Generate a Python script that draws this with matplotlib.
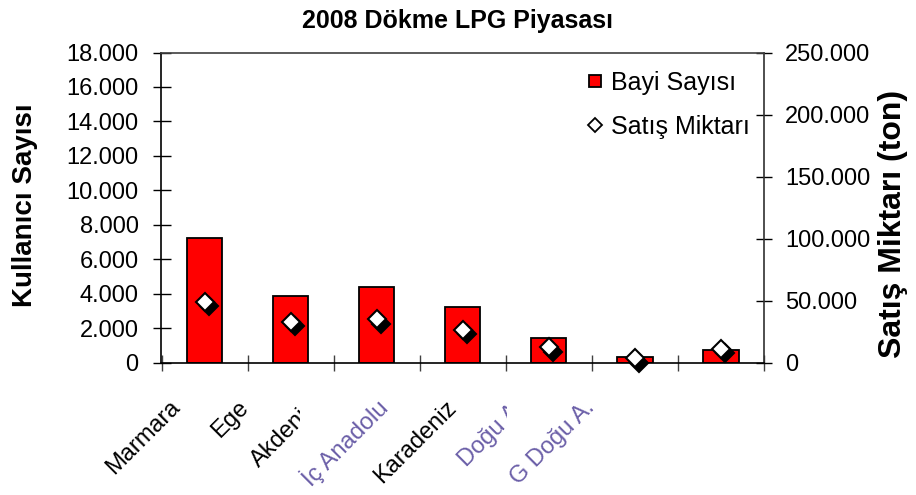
import matplotlib
matplotlib.use("Agg")
import matplotlib.pyplot as plt
from matplotlib.ticker import FuncFormatter, MultipleLocator
from matplotlib.transforms import ScaledTranslation, Bbox, TransformedBbox
from matplotlib.lines import Line2D
import numpy as np

plt.rcParams['font.family'] = ['Liberation Sans', 'DejaVu Sans']

title = "2008 Dökme LPG Piyasası"
categories = ["Marmara", "Ege", "Akdeniz", "İç Anadolu", "Karadeniz", "Doğu A.", "G Doğu A."]
bayi_sayisi = [7250, 3850, 4400, 3250, 1400, 330, 700]
satis_miktari = [49000, 33000, 35000, 26500, 12500, 3500, 11000]
left_label = "Kullanıcı Sayısı"
right_label = "Satış Miktarı (ton)"
legend_labels = ["Bayi Sayısı", "Satış Miktarı"]

W, H = 916, 495
fig = plt.figure(figsize=(W / 100, H / 100), dpi=100)
ax = fig.add_axes([161.5 / W, 1 - 362.5 / H, (764 - 161.5) / W, (362.5 - 52.5) / H])
ax2 = ax.twinx()

x = np.arange(len(categories))
ax.bar(x, bayi_sayisi, width=0.41, color='#ff0000', edgecolor='black', linewidth=1.3, zorder=2)
ax.set_xlim(-0.5, len(categories) - 0.5)
ax.set_ylim(0, 18000)
ax.yaxis.set_major_locator(MultipleLocator(2000))
ax2.set_ylim(0, 250000)
ax2.yaxis.set_major_locator(MultipleLocator(50000))

fmt = FuncFormatter(lambda v, p: f"{int(round(v)):,}".replace(",", "."))
ax.yaxis.set_major_formatter(fmt)
ax2.yaxis.set_major_formatter(fmt)

# diamonds with shadow
shadow = ScaledTranslation(4.5 / 100, -4.5 / 100, fig.dpi_scale_trans)
ax2.plot(x, satis_miktari, linestyle='none', marker='D', markersize=9, markerfacecolor='black',
         markeredgecolor='black', markeredgewidth=1.5, transform=ax2.transData + shadow, zorder=3,
         clip_on=False)
ax2.plot(x, satis_miktari, linestyle='none', marker='D', markersize=9, markerfacecolor='white',
         markeredgecolor='black', markeredgewidth=1.5, zorder=4, clip_on=False)

# spines
for s in ['top', 'right', 'left', 'bottom']:
    ax.spines[s].set_visible(False)
ax2.spines['left'].set_color('black')
ax2.spines['bottom'].set_color('black')
ax2.spines['top'].set_color('#404040')
ax2.spines['right'].set_color('#303030')
for s in ax2.spines.values():
    s.set_linewidth(1.2)

# ticks
ax.tick_params(axis='y', direction='inout', length=13, width=1, labelsize=17, pad=10, colors='black')
ax2.tick_params(axis='y', direction='inout', length=12, width=1, labelsize=17, pad=9, colors='black')
ax.set_xticks(np.arange(len(categories) + 1) - 0.5)
ax.set_xticklabels([])
ax.tick_params(axis='x', which='major', direction='inout', length=11.5, width=1, color='#404040')
ax.set_xticks(x, categories, minor=True)
ax.tick_params(axis='x', which='minor', length=0, pad=30, labelsize=17)

faded = {3, 5, 6}
clip_at = {2: 300, 5: 507}
for i, lab in enumerate(ax.get_xticklabels(minor=True)):
    lab.set_rotation(45)
    lab.set_rotation_mode('anchor')
    lab.set_ha('right')
    lab.set_va('center')
    off = ScaledTranslation((-28 - 17.0 * i) / 100, 0, fig.dpi_scale_trans)
    lab.set_transform(lab.get_transform() + off)
    if i in faded:
        lab.set_color('#6b5fa8')
    if i in clip_at:
        lab.set_clip_box(TransformedBbox(Bbox.from_extents(0, 0, clip_at[i] / W, 1), fig.transFigure))
        lab.set_clip_on(True)

ax.set_ylabel(left_label, fontsize=20, fontweight='bold')
ax2.set_ylabel(right_label, fontsize=23, fontweight='bold')
ax.yaxis.set_label_coords(25 / W, 1 - 205 / H, transform=fig.transFigure)
ax2.yaxis.set_label_coords(893 / W, 1 - 224 / H, transform=fig.transFigure)
ax.yaxis.label.set_va('center')
ax2.yaxis.label.set_va('center')

fig.text(458 / W, 1 - 21 / H, title, ha='center', va='center', fontsize=18, fontweight='bold')

handles = [
    Line2D([], [], linestyle='none', marker='s', markersize=9, markerfacecolor='#ff0000',
           markeredgecolor='black', markeredgewidth=1.3),
    Line2D([], [], linestyle='none', marker='D', markersize=7, markerfacecolor='white',
           markeredgecolor='black', markeredgewidth=1.3),
]
leg = ax2.legend(handles, legend_labels, loc='upper left', bbox_to_anchor=(0.705, 0.94),
                 frameon=False, fontsize=18, handlelength=0.7, handletextpad=0.3,
                 labelspacing=0.8, borderpad=0, borderaxespad=0)

fig.savefig("out.png", dpi=100, facecolor='white')
